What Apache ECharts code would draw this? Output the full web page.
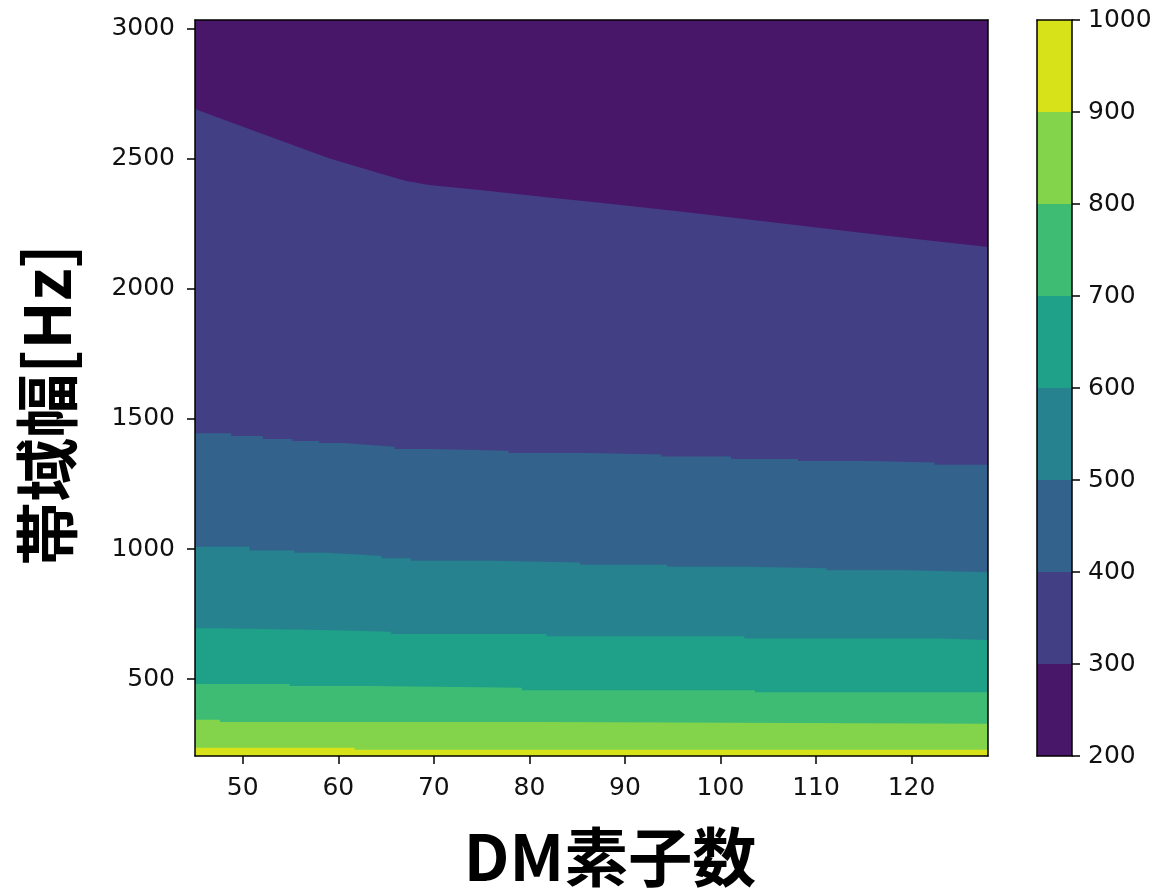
<!DOCTYPE html>
<html>
<head>
<meta charset="utf-8">
<script src="https://cdn.jsdelivr.net/npm/echarts@6/dist/echarts.min.js"></script>
<style>
  html, body { margin: 0; padding: 0; background: #fff; }
  #chart { width: 1167px; height: 888px; }
</style>
</head>
<body>
<div id="chart"></div>
<script>
// 軸範囲
const xMin = 45
const xMax = 128
const yMin = 205
const yMax = 3032

const xTicks = [50, 60, 70, 80, 90, 100, 110, 120]
const yTicks = [500, 1000, 1500, 2000, 2500, 3000]

// 等高線レベルと色 (viridis)
const levels = [200, 300, 400, 500, 600, 700, 800, 900, 1000]
const bandColors = ['#481769', '#423f85', '#33638d', '#26828e', '#1fa088', '#3fbc73', '#84d44b', '#d8e219']

// 各レベルの境界線 (DM素子数 -> 帯域幅)
const b300X = [45, 48.6, 53.8, 59.1, 64.3, 67.0, 69.5, 74.8, 81.8, 87.4, 95.8, 106.3, 116.7, 128]
const b300Y = [2690, 2641, 2571, 2500, 2443, 2415, 2398, 2379, 2351, 2330, 2296, 2251, 2206, 2160]

const b400X = [45, 48.8, 52.1, 55.2, 58.0, 60.6, 63.3, 65.9, 69.6, 77.8, 85.8, 93.8, 101.1, 108.1, 115.3, 122.4, 128]
const b400Y = [1445, 1434, 1423, 1415, 1407, 1400, 1393, 1384, 1377, 1369, 1363, 1355, 1346, 1338, 1332, 1324, 1324]

const b500X = [45, 50.7, 55.4, 58.7, 61.5, 64.5, 67.6, 76.2, 85.3, 94.4, 102.7, 111.1, 119.5, 128]
const b500Y = [1009, 994, 986, 980, 973, 965, 955, 948, 940, 932, 926, 918, 911, 911]

const b600X = [45, 47.4, 58.4, 65.5, 81.8, 102.5, 122.8, 128]
const b600Y = [696, 689, 682, 674, 665, 656, 651, 651]

const b700X = [45, 54.9, 63.4, 79.2, 103.6, 128]
const b700Y = [482, 474, 467, 458, 450, 450]

const b800X = [45, 47.6, 80.4, 128]
const b800Y = [344, 336, 329, 329]

const b900X = [45, 61.7, 128]
const b900Y = [237, 229, 229]

const boundaries = [
  { x: b300X, y: b300Y, step: false },
  { x: b400X, y: b400Y, step: 'end' },
  { x: b500X, y: b500Y, step: 'end' },
  { x: b600X, y: b600Y, step: 'end' },
  { x: b700X, y: b700Y, step: 'end' },
  { x: b800X, y: b800Y, step: 'end' },
  { x: b900X, y: b900Y, step: 'end' },
]

const tickFont = { fontFamily: 'DejaVu Sans', fontSize: 25, color: '#111', formatter: (v) => String(v) }
const titleFont = '"Noto Sans CJK JP", sans-serif'

// 境界線より下をその帯の色で塗る (上から順に重ねる)
const contourSeries = boundaries.map((b, i) => ({
  type: 'line',
  xAxisIndex: 0,
  yAxisIndex: 0,
  data: b.x.map((x, k) => [x, b.y[k]]),
  step: b.step,
  symbol: 'none',
  silent: true,
  lineStyle: { width: 0 },
  areaStyle: { color: bandColors[i + 1], opacity: 1, origin: 'start' },
}))

// カラーバー: 各レベルまでの棒を重ねる
const colorbarSeries = []
for (let i = levels.length - 2; i >= 0; i--) {
  colorbarSeries.push({
    type: 'bar',
    xAxisIndex: 2,
    yAxisIndex: 2,
    data: [levels[i + 1]],
    barWidth: '100%',
    barGap: '-100%',
    silent: true,
    itemStyle: { color: bandColors[i] },
  })
}

const lineOnly = (extra) => Object.assign({
  axisLine: { show: true, lineStyle: { color: '#000', width: 1.5 } },
  axisTick: { show: false },
  axisLabel: { show: false },
  splitLine: { show: false },
  z: 10,
}, extra)

const chart = echarts.init(document.getElementById('chart'))

chart.setOption({
  animation: false,
  grid: [
    { left: 195, right: 179, top: 20, bottom: 132, show: true, backgroundColor: bandColors[0], borderWidth: 0 },
    { left: 1037, width: 35, top: 20, bottom: 132 },
  ],
  xAxis: [
    {
      type: 'value', gridIndex: 0, min: xMin, max: xMax, position: 'bottom', z: 10,
      axisLine: { show: true, onZero: false, lineStyle: { color: '#000', width: 1.5 } },
      axisTick: { show: true, length: 8, customValues: xTicks, lineStyle: { color: '#000', width: 1.5 } },
      axisLabel: Object.assign({ customValues: xTicks, margin: 20 }, tickFont),
      splitLine: { show: false },
    },
    lineOnly({ type: 'value', gridIndex: 0, min: xMin, max: xMax, position: 'top' }),
    lineOnly({ type: 'category', gridIndex: 1, data: [''], position: 'bottom' }),
    lineOnly({ type: 'category', gridIndex: 1, data: [''], position: 'top' }),
  ],
  yAxis: [
    {
      type: 'value', gridIndex: 0, min: yMin, max: yMax, position: 'left', z: 10,
      axisLine: { show: true, onZero: false, lineStyle: { color: '#000', width: 1.5 } },
      axisTick: { show: true, length: 8, customValues: yTicks, lineStyle: { color: '#000', width: 1.5 } },
      axisLabel: Object.assign({ customValues: yTicks, margin: 20 }, tickFont),
      splitLine: { show: false },
    },
    lineOnly({ type: 'value', gridIndex: 0, min: yMin, max: yMax, position: 'right' }),
    {
      type: 'value', gridIndex: 1, min: levels[0], max: levels[levels.length - 1], interval: 100, position: 'right', z: 10,
      axisLine: { show: true, onZero: false, lineStyle: { color: '#000', width: 1.5 } },
      axisTick: { show: true, length: 8, lineStyle: { color: '#000', width: 1.5 } },
      axisLabel: Object.assign({ margin: 16 }, tickFont),
      splitLine: { show: false },
    },
    lineOnly({ type: 'value', gridIndex: 1, min: levels[0], max: levels[levels.length - 1], position: 'left' }),
  ],
  graphic: [
    {
      type: 'text', x: 610, y: 857,
      style: { text: 'DM素子数', font: 'bold 64px ' + titleFont, fill: '#000', align: 'center', verticalAlign: 'middle' },
    },
    {
      type: 'text', x: 47, y: 405, rotation: Math.PI / 2,
      style: { text: '帯域幅[Hz]', font: 'bold 64px ' + titleFont, fill: '#000', align: 'center', verticalAlign: 'middle' },
    },
  ],
  series: contourSeries.concat(colorbarSeries),
})
</script>
</body>
</html>
